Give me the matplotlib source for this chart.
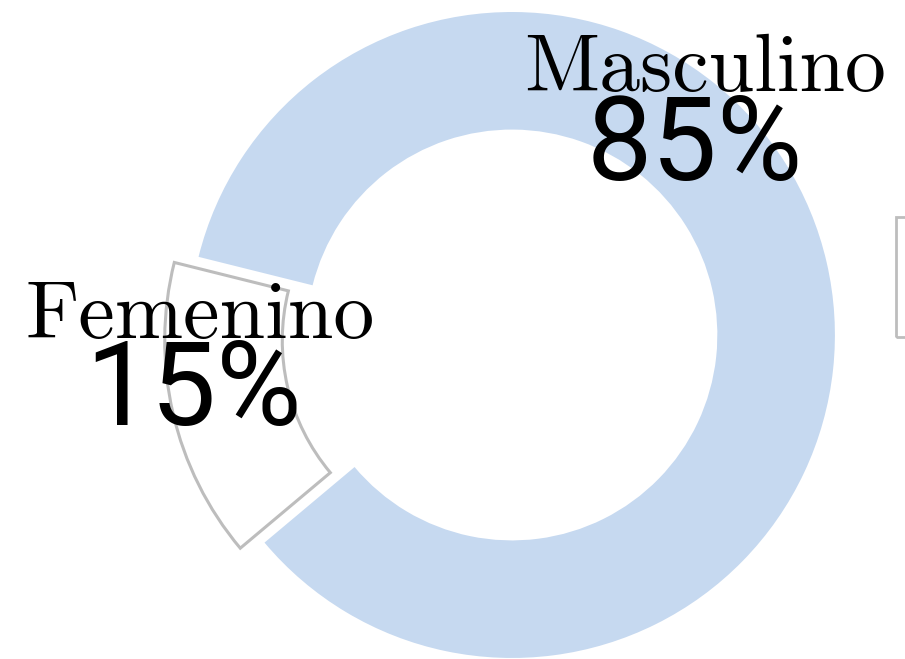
import matplotlib
matplotlib.use("Agg")
import matplotlib.pyplot as plt
from matplotlib.patches import Rectangle

categories = ["Masculino", "Femenino"]
values = [85, 15]
pct_labels = ["85%", "15%"]

blue = "#c6d9f0"
grey = "#bdbdbd"

fig = plt.figure(figsize=(9.05, 6.59), dpi=100)
ax = fig.add_axes([0, 0, 1, 1])

wedges, _ = ax.pie(values, startangle=220, counterclock=True, radius=1.0,
                   explode=[0, 0.077],
                   colors=[blue, "white"],
                   wedgeprops=dict(width=0.364))
wedges[0].set_edgecolor("none")
wedges[1].set_edgecolor(grey)
wedges[1].set_linewidth(2.2)

ax.set_xlim(-1.585, 1.217)
ax.set_ylim(-1.003, 1.037)
ax.set_aspect("equal")
ax.axis("off")

lab_pos = [(0.598, 0.755), (-0.966, -0.009)]
pct_pos = [(0.565, 0.480), (-0.985, -0.279)]
for name, pct, lp, pp in zip(categories, pct_labels, lab_pos, pct_pos):
    ax.text(lp[0], lp[1], name, ha="center", va="baseline",
            fontfamily="cmr10", fontsize=59)
    ax.text(pp[0], pp[1], pct, ha="center", va="baseline",
            fontfamily=["Roboto", "DejaVu Sans"], fontsize=84)

# legend frame (its contents lie outside the canvas in the reference)
fig.patches.append(Rectangle((896 / 905, 1 - 337 / 659), 0.05, 120 / 659,
                             transform=fig.transFigure, facecolor="none",
                             edgecolor=grey, linewidth=2))

fig.savefig("out.png", dpi=100)
